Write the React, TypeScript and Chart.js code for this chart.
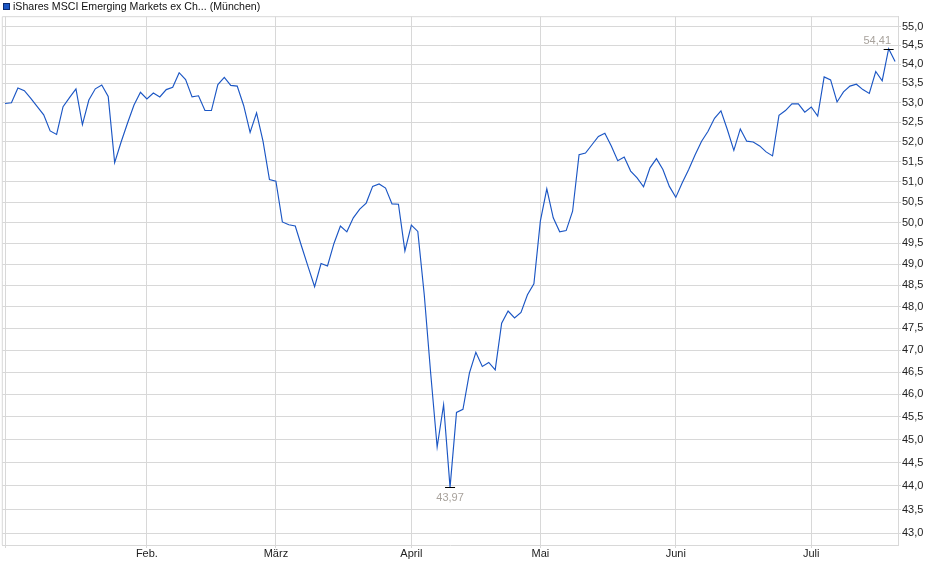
import { useEffect, useRef } from 'react'
import { Chart, registerables } from 'chart.js'

Chart.register(...registerables)

const seriesLabel = 'iShares MSCI Emerging Markets ex Ch... (München)'

// one value per trading day, split by month
const jan = [52.98, 53.0, 53.38, 53.31, 53.11, 52.9, 52.69, 52.28, 52.19, 52.9, 53.13, 53.36, 52.44, 53.07, 53.36, 53.46, 53.16, 51.48, 52.0, 52.48, 52.94, 53.27]
const feb = [53.1, 53.25, 53.15, 53.34, 53.4, 53.78, 53.6, 53.15, 53.18, 52.8, 52.8, 53.47, 53.66, 53.45, 53.43, 52.93, 52.24, 52.74, 52.02, 51.06]
const mar = [51.02, 50.02, 49.95, 49.92, 49.42, 48.94, 48.47, 49.02, 48.96, 49.5, 49.92, 49.78, 50.12, 50.33, 50.48, 50.89, 50.95, 50.85, 50.46, 50.45, 49.32]
const apr = [49.94, 49.79, 48.28, 46.47, 44.84, 45.77, 43.97, 45.6, 45.67, 46.48, 46.95, 46.63, 46.72, 46.55, 47.62, 47.9, 47.74, 47.87, 48.28, 48.54]
const may = [50.04, 50.83, 50.12, 49.78, 49.81, 50.28, 51.68, 51.72, 51.93, 52.14, 52.22, 51.9, 51.53, 51.62, 51.27, 51.1, 50.88, 51.35, 51.58, 51.31, 50.89]
const jun = [50.62, 50.98, 51.31, 51.68, 52.02, 52.27, 52.6, 52.79, 52.31, 51.79, 52.33, 52.02, 52.0, 51.9, 51.75, 51.65, 52.68, 52.8, 52.97, 52.97, 52.76]
const jul = [52.89, 52.66, 53.67, 53.59, 53.02, 53.28, 53.43, 53.48, 53.34, 53.24, 53.81, 53.57, 54.41, 54.07]

const months = [jan, feb, mar, apr, may, jun, jul]
const monthLabels = ['', 'Feb.', 'März', 'April', 'Mai', 'Juni', 'Juli']

const yTicks = [43.0, 43.5, 44.0, 44.5, 45.0, 45.5, 46.0, 46.5, 47.0, 47.5, 48.0, 48.5, 49.0, 49.5, 50.0, 50.5, 51.0, 51.5, 52.0, 52.5, 53.0, 53.5, 54.0, 54.5, 55.0]

const FONT = "'Liberation Sans', Arial, sans-serif"
const LINE = '#1b56c4'
const GRID = '#d8d8d8'

const fmt = (v: number) => v.toFixed(2).replace('.', ',')

export default function App() {
  const canvasRef = useRef<HTMLCanvasElement>(null)

  useEffect(() => {
    if (!canvasRef.current) return
    const prices = months.flat()
    const monthStarts: number[] = []
    let acc = 0
    months.forEach(m => { monthStarts.push(acc); acc += m.length })

    const frame = {
      id: 'frame',
      beforeDatasetsDraw(chart: any) {
        const { ctx, chartArea: a } = chart
        ctx.save()
        ctx.strokeStyle = GRID
        ctx.lineWidth = 1
        ctx.beginPath()
        ctx.moveTo(a.left, a.bottom); ctx.lineTo(a.left, a.top); ctx.lineTo(a.right, a.top)
        ctx.stroke()
        ctx.restore()
      },
      afterDraw(chart: any) {
        const { ctx, chartArea: a, scales: { x, y } } = chart
        ctx.save()
        // legend
        ctx.fillStyle = LINE
        ctx.fillRect(3, 3, 7, 7)
        ctx.strokeStyle = '#0b2a6e'
        ctx.strokeRect(3.5, 3.5, 6, 6)
        ctx.fillStyle = '#111'
        ctx.font = `10.6px ${FONT}`
        ctx.textBaseline = 'middle'
        ctx.textAlign = 'left'
        ctx.fillText(seriesLabel, 13, 7)

        // min / max markers
        ctx.font = `11px ${FONT}`
        let iMin = 0, iMax = 0
        prices.forEach((v, i) => { if (v < prices[iMin]) iMin = i; if (v > prices[iMax]) iMax = i })
        const mark = (i: number, dy: number) => {
          const px = x.getPixelForValue(i)
          const py = y.getPixelForValue(prices[i])
          ctx.strokeStyle = '#000'
          ctx.lineWidth = 1
          ctx.beginPath()
          ctx.moveTo(px - 5, Math.round(py) + 0.5); ctx.lineTo(px + 5, Math.round(py) + 0.5)
          ctx.stroke()
          const t = fmt(prices[i])
          const w = ctx.measureText(t).width
          const cx = Math.min(px, a.right - 7 - w / 2)
          ctx.fillStyle = '#a8a29c'
          ctx.textAlign = 'center'
          ctx.fillText(t, cx, py + dy)
        }
        mark(iMin, 11)
        mark(iMax, -8)
        ctx.restore()
      },
    }

    const chart = new Chart(canvasRef.current, {
      type: 'line',
      plugins: [frame],
      data: {
        datasets: [{
          label: seriesLabel,
          data: prices.map((v, i) => ({ x: i, y: v })),
          borderColor: LINE,
          borderWidth: 1.15,
          pointRadius: 0,
          tension: 0,
          fill: false,
        }],
      },
      options: {
        responsive: true,
        maintainAspectRatio: false,
        animation: false,
        layout: { padding: { top: 16.7, left: 2.3, right: 0, bottom: 0 } },
        plugins: { legend: { display: false }, tooltip: { enabled: false } },
        scales: {
          x: {
            type: 'linear',
            bounds: 'data',
            min: -0.42,
            max: prices.length - 1 + 0.45,
            afterBuildTicks: (s: any) => { s.ticks = monthStarts.map(v => ({ value: v })) },
            afterFit: (s: any) => { s.height = 34 },
            grid: { color: GRID, tickLength: 3, drawTicks: true },
            border: { color: GRID },
            ticks: {
              autoSkip: false,
              maxRotation: 0,
              padding: -1,
              color: '#222',
              font: { family: FONT, size: 11 },
              callback: (_v: any, i: number) => monthLabels[i] ?? '',
            },
          },
          y: {
            type: 'logarithmic',
            position: 'right',
            bounds: 'data',
            min: 42.756,
            max: 55.262,
            afterBuildTicks: (s: any) => { s.ticks = yTicks.map(v => ({ value: v })) },
            afterFit: (s: any) => { s.width = 42 },
            grid: { color: GRID, tickLength: 3, drawTicks: true },
            border: { color: GRID },
            ticks: {
              autoSkip: false,
              padding: 1,
              color: '#222',
              font: { family: FONT, size: 11 },
              callback: (v: any) => Number(v).toFixed(1).replace('.', ','),
            },
          },
        },
      },
    })

    return () => { chart.destroy() }
  }, [])

  return (
    <div style={{ position: 'fixed', left: 0, top: 0, width: 940, height: 579, background: '#fff' }}>
      <canvas ref={canvasRef} />
    </div>
  )
}
